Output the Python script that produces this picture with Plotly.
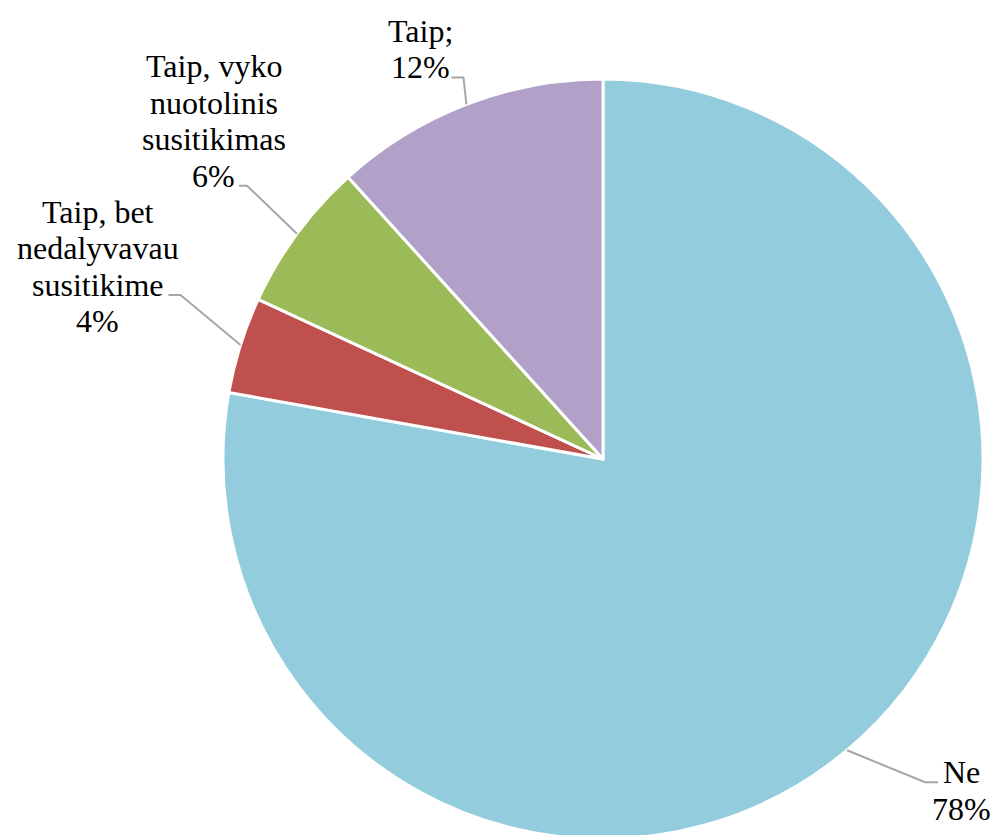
import math
import plotly.graph_objects as go

# ---- data ----
categories = ["Ne", "Taip, bet nedalyvavau susitikime",
              "Taip, vyko nuotolinis susitikimas", "Taip"]
values = [77.8, 4.1, 6.4, 11.7]  # percent shares
label_lines = [["Ne"], ["Taip, bet", "nedalyvavau", "susitikime"],
               ["Taip, vyko", "nuotolinis", "susitikimas"], ["Taip;"]]
colors = ["#93CDDD", "#C0504D", "#9BBB59", "#B1A0C7"]

# ---- layout constants (pixels) ----
W, H = 993, 840
CX, CY, R = 603, 459, 380
FONT = dict(family="Liberation Serif, Times New Roman, serif", size=32, color="#000000")
LINE_SP = 36.5
# per-label: elbow offset from slice edge, stub length, text centre x offset from elbow,
# index of the text line whose baseline sits at the stub
label_layout = [
    dict(elbow=(78, 32), stub=13, tx=36, anchor_line=0),
    dict(elbow=(-60, -50), stub=-12, tx=-83, anchor_line=2),
    dict(elbow=(-50, -48), stub=-8, tx=-33, anchor_line=3),
    dict(elbow=(-3, -27), stub=-12, tx=-43, anchor_line=1),
]


def px(x):
    return x / W


def py(y):
    return 1 - y / H


fig = go.Figure(go.Pie(
    labels=categories, values=values, sort=False, direction="clockwise",
    rotation=0, textinfo="none", hoverinfo="label+percent",
    marker=dict(colors=colors, line=dict(color="white", width=3)),
    domain=dict(x=[(CX - R) / W, (CX + R) / W], y=[(H - CY - R) / H, (H - CY + R) / H]),
    showlegend=False,
))

total = sum(values)
cum = 0
shapes, annotations = [], []
for i, v in enumerate(values):
    mid = (cum + v / 2) / total
    cum += v
    ang = math.radians(90 - 360 * mid)
    ex, ey = CX + R * math.cos(ang), CY - R * math.sin(ang)
    L = label_layout[i]
    bx, by = ex + L["elbow"][0], ey + L["elbow"][1]
    sx = bx + L["stub"]
    shapes.append(dict(type="path", xref="paper", yref="paper",
                       path=f"M {px(ex)} {py(ey)} L {px(bx)} {py(by)} L {px(sx)} {py(by)}",
                       line=dict(color="#A6A6A6", width=2)))
    lines = label_lines[i] + [f"{round(v / total * 100)}%"]
    for j, t in enumerate(lines):
        base = by + 1 + (j - L["anchor_line"]) * LINE_SP
        annotations.append(dict(x=px(bx + L["tx"]), y=py(base - 11), xref="paper", yref="paper",
                                text=t, showarrow=False, xanchor="center", yanchor="middle",
                                font=FONT))

fig.update_layout(width=W, height=H, margin=dict(l=0, r=0, t=0, b=0),
                  paper_bgcolor="white", plot_bgcolor="white",
                  shapes=shapes, annotations=annotations)
fig.write_html("out.html", config={"displayModeBar": False},
               post_script="document.body.style.margin='0';document.body.style.overflow='hidden';")
